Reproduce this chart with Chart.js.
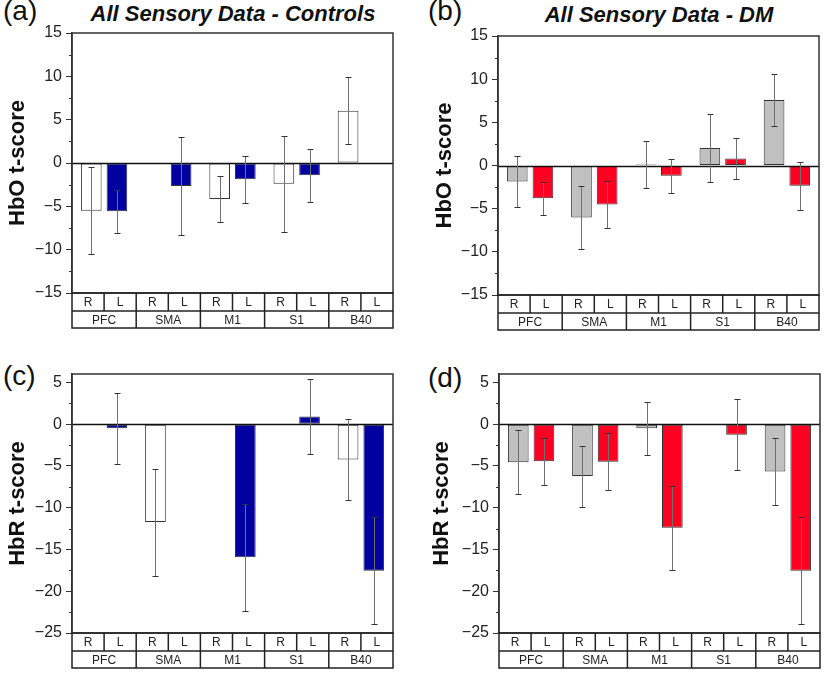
<!DOCTYPE html>
<html><head><meta charset="utf-8">
<script src="https://cdn.jsdelivr.net/npm/chart.js@4.4.0/dist/chart.umd.min.js"></script>
<style>
body{margin:0;width:825px;height:674px;background:#fff;position:relative;overflow:hidden;font-family:"Liberation Sans",Arial,sans-serif}
canvas{position:absolute}
.lab{position:absolute;font-size:28px;line-height:32px;color:#111;white-space:nowrap}
.ttl{position:absolute;font-weight:bold;font-style:italic;font-size:22px;line-height:28px;text-align:center;color:#111;width:400px;white-space:nowrap}
</style></head><body>
<div class="lab" style="left:3px;top:-5px">(a)</div>
<div class="lab" style="left:428px;top:-5px">(b)</div>
<div class="lab" style="left:3px;top:360px">(c)</div>
<div class="lab" style="left:428px;top:362px">(d)</div>
<div class="ttl" style="left:33px;top:0px">All Sensory Data - Controls</div>
<div class="ttl" style="left:459px;top:1px">All Sensory Data - DM</div>
<canvas id="ca" width="412" height="337" style="left:0;top:0;width:412px;height:337px"></canvas>
<canvas id="cb" width="413" height="337" style="left:412px;top:0;width:413px;height:337px"></canvas>
<canvas id="cc" width="412" height="337" style="left:0;top:337px;width:412px;height:337px"></canvas>
<canvas id="cd" width="413" height="337" style="left:412px;top:337px;width:413px;height:337px"></canvas>
<script>
// ---- data ----
const regions = ['PFC', 'SMA', 'M1', 'S1', 'B40'];
const sides = ['R', 'L'];
const hboTicks = [-15, -10, -5, 0, 5, 10, 15];
const hbrTicks = [-25, -20, -15, -10, -5, 0, 5];

// (a) HbO controls
const hboCtrlR    = [-5.5, null, -4.15, -2.38, 6.04];
const hboCtrlRErr = [5.0, null, 2.7, 5.55, 3.85];
const hboCtrlL    = [-5.58, -2.65, -1.88, -1.42, null];
const hboCtrlLErr = [2.5, 5.6, 2.7, 3.05, null];
// (b) HbO DM
const hboDmR    = [-1.85, -6.02, 0.12, 2.04, 7.6];
const hboDmRErr = [2.95, 3.63, 2.72, 3.97, 3.0];
const hboDmL    = [-3.78, -4.51, -1.2, 0.81, -2.35];
const hboDmLErr = [1.9, 2.76, 2.0, 2.43, 2.78];
// (c) HbR controls
const hbrCtrlR    = [null, -11.72, null, null, -4.24];
const hbrCtrlRErr = [null, 6.4, null, null, 4.9];
const hbrCtrlL    = [-0.48, null, -15.92, 0.92, -17.56];
const hbrCtrlLErr = [4.26, null, 6.4, 4.5, 6.4];
// (d) HbR DM
const hbrDmR    = [-4.55, -6.22, -0.48, null, -5.66];
const hbrDmRErr = [3.85, 3.65, 3.17, null, 4.0];
const hbrDmL    = [-4.43, -4.5, -12.4, -1.28, -17.55];
const hbrDmLErr = [2.8, 3.4, 5.0, 4.25, 6.4];

const FAM = '"Liberation Sans", Arial, sans-serif';
const fmt = v => v < 0 ? '\u2212' + Math.abs(v) : String(v);

const panelPlugin = {
  id: 'panel',
  afterDatasetsDraw(chart) {
    const {ctx, chartArea: a, scales: {x, y}} = chart;
    ctx.save();
    // zero line
    const y0 = Math.round(y.getPixelForValue(0)) + 0.5;
    ctx.strokeStyle = '#111'; ctx.lineWidth = 1.5;
    ctx.beginPath(); ctx.moveTo(a.left, y0); ctx.lineTo(a.right, y0); ctx.stroke();
    // error bars
    chart.data.datasets.forEach((ds, di) => {
      const meta = chart.getDatasetMeta(di);
      ds.data.forEach((v, i) => {
        const e = ds.errors[i];
        if (v == null || e == null) return;
        const cx = Math.round(meta.data[i].x) + 0.5;
        const yt = Math.round(y.getPixelForValue(v + e)) + 0.5;
        const yb = Math.round(y.getPixelForValue(v - e)) + 0.5;
        ctx.strokeStyle = '#707070'; ctx.lineWidth = 1;
        ctx.beginPath(); ctx.moveTo(cx, yt); ctx.lineTo(cx, yb); ctx.stroke();
        ctx.strokeStyle = '#333';
        ctx.beginPath();
        ctx.moveTo(cx - 3, yt); ctx.lineTo(cx + 3, yt);
        ctx.moveTo(cx - 3, yb); ctx.lineTo(cx + 3, yb);
        ctx.stroke();
      });
    });
    // plot box
    ctx.strokeStyle = '#333'; ctx.lineWidth = 1.5;
    ctx.strokeRect(a.left, a.top, a.right - a.left, a.bottom - a.top);
    // minor ticks
    ctx.lineWidth = 1;
    for (let v = y.min; v <= y.max + 1e-9; v += 2.5) {
      if (Math.abs(v % 5) < 1e-9) continue;
      const py = Math.round(y.getPixelForValue(v)) + 0.5;
      ctx.beginPath(); ctx.moveTo(a.left - 3, py); ctx.lineTo(a.left, py); ctx.stroke();
    }
    // category table
    const cw = x.getPixelForValue(1) - x.getPixelForValue(0);
    const r0 = a.bottom, r1 = r0 + 18, r2 = r1 + 17;
    ctx.strokeStyle = '#222'; ctx.lineWidth = 1.5;
    ctx.strokeRect(a.left, r0, a.right - a.left, r2 - r0);
    ctx.beginPath(); ctx.moveTo(a.left, r1); ctx.lineTo(a.right, r1); ctx.stroke();
    ctx.fillStyle = '#222';
    ctx.font = '12px ' + FAM;
    ctx.textAlign = 'center'; ctx.textBaseline = 'middle';
    regions.forEach((name, i) => {
      const c = x.getPixelForValue(i);
      const l = c - cw / 2;
      if (i > 0) { ctx.beginPath(); ctx.moveTo(l, r0); ctx.lineTo(l, r2); ctx.stroke(); }
      ctx.beginPath(); ctx.moveTo(c, r0); ctx.lineTo(c, r1); ctx.stroke();
      sides.forEach((s, k) => {
        ctx.fillText(s, l + cw / 4 + k * cw / 2, (r0 + r1) / 2 + 1);
      });
      ctx.fillText(name, c, (r1 + r2) / 2 + 1);
    });
    ctx.restore();
  }
};

function makeChart(id, rVals, rErr, lVals, lErr, rColor, lColor, yMin, yMax, ticksArr, yTitle, yW, pad, titlePad) {
  new Chart(document.getElementById(id), {
    type: 'bar',
    data: {
      labels: regions,
      datasets: [
        {label: 'R', data: rVals, errors: rErr, backgroundColor: rColor, borderColor: '#333', borderWidth: 1, borderSkipped: false, categoryPercentage: 0.8, barPercentage: 0.805},
        {label: 'L', data: lVals, errors: lErr, backgroundColor: lColor, borderColor: '#333', borderWidth: 1, borderSkipped: false, categoryPercentage: 0.8, barPercentage: 0.805}
      ]
    },
    options: {
      responsive: false, animation: false, devicePixelRatio: 1,
      layout: {padding: pad},
      plugins: {legend: {display: false}, tooltip: {enabled: false}},
      scales: {
        x: {display: false},
        y: {
          min: yMin, max: yMax,
          afterFit(s) { s.width = yW; },
          afterBuildTicks(s) { s.ticks = ticksArr.map(v => ({value: v})); },
          ticks: {autoSkip: false, font: {size: 16, family: FAM}, color: '#222', padding: 4, callback: v => fmt(v)},
          grid: {drawOnChartArea: false, drawTicks: true, tickLength: 6, tickColor: '#333', tickWidth: 1},
          border: {display: true, color: '#333', width: 1.5},
          title: {display: true, text: yTitle, color: '#111', font: {size: 22, weight: 'bold', family: FAM}, padding: {top: titlePad, bottom: 0}}
        }
      }
    },
    plugins: [panelPlugin]
  });
}

makeChart('ca', hboCtrlR, hboCtrlRErr, hboCtrlL, hboCtrlLErr, '#ffffff', '#0000a0', -15, 15, hboTicks, 'HbO t-score', 72, {left: 0, top: 33, right: 19, bottom: 44}, 5);
makeChart('cb', hboDmR, hboDmRErr, hboDmL, hboDmLErr, '#c0c0c0', '#ff0022', -15, 15, hboTicks, 'HbO t-score', 86, {left: 0, top: 36, right: 6, bottom: 42}, 20);
makeChart('cc', hbrCtrlR, hbrCtrlRErr, hbrCtrlL, hbrCtrlLErr, '#ffffff', '#0000a0', -25, 6, hbrTicks, 'HbR t-score', 72, {left: 0, top: 37, right: 19, bottom: 41}, 5);
makeChart('cd', hbrDmR, hbrDmRErr, hbrDmL, hbrDmLErr, '#c0c0c0', '#ff0022', -25, 6, hbrTicks, 'HbR t-score', 87, {left: 0, top: 37, right: 5, bottom: 41}, 17);
</script>
</body></html>
